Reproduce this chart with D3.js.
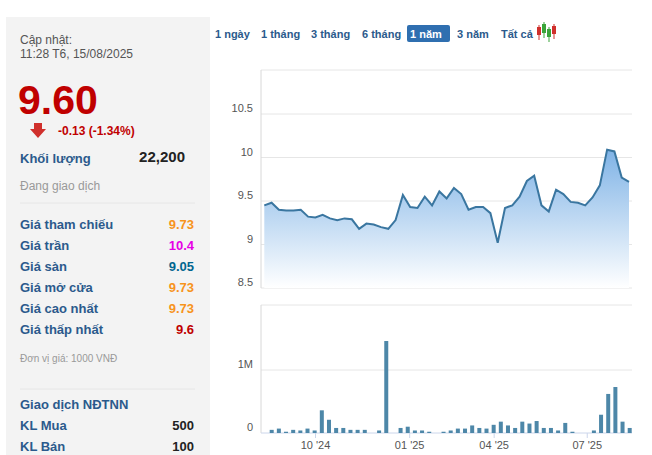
<!DOCTYPE html>
<html><head><meta charset="utf-8">
<script src="https://cdn.jsdelivr.net/npm/d3@7"></script>
<style>body{margin:0;background:#fff;font-family:Arial,"Liberation Sans",sans-serif}</style>
</head><body><svg id="c" width="652" height="455"></svg>
<script>
const prices=[9.45,9.48,9.40,9.39,9.39,9.40,9.32,9.31,9.34,9.30,9.28,9.30,9.29,9.18,9.24,9.23,9.20,9.18,9.28,9.57,9.43,9.42,9.55,9.45,9.61,9.53,9.65,9.58,9.40,9.43,9.43,9.36,9.02,9.42,9.45,9.55,9.73,9.79,9.45,9.38,9.63,9.58,9.49,9.48,9.45,9.54,9.68,10.09,10.07,9.77,9.72];
const volumesM=[0.05,0.07,0.02,0.05,0.04,0.07,0.04,0.36,0.21,0.08,0.08,0.05,0.05,0.05,0,0.04,1.46,0,0.08,0.10,0.04,0.04,0.02,0,0.02,0.04,0.07,0.07,0.12,0.08,0.07,0.13,0.18,0.12,0.08,0.18,0.15,0.19,0.08,0.08,0.04,0.16,0.02,0,0,0.04,0.29,0.62,0.73,0.18,0.08];
const priceTicks=[8.5,9,9.5,10,10.5];
const volTicks=[0,1];
const monthLabels=["10 '24","01 '25","04 '25","07 '25"];
const monthIdx=[6.05,19.2,31.0,44.0];
const ranges=["1 ngày","1 tháng","3 tháng","6 tháng","1 năm","3 năm","Tất cả"];
const infoLabels=["Giá tham chiếu","Giá trần","Giá sàn","Giá mở cửa","Giá cao nhất","Giá thấp nhất"];
const infoValues=["9.73","10.4","9.05","9.73","9.73","9.6"];
const infoColors=["#f7941d","#e600e6","#00658f","#f7941d","#f7941d","#c00000"];

const svg=d3.select("#c");
svg.append("rect").attr("x",6).attr("y",17).attr("width",204).attr("height",440).attr("fill","#f3f3f3");
const T=(x,y,t,o={})=>svg.append("text").attr("x",x).attr("y",y).text(t)
 .attr("font-size",o.s||12).attr("fill",o.c||"#333").attr("font-weight",o.w||"normal").attr("text-anchor",o.a||"start");
T(20,44,"Cập nhật:",{c:"#555"});T(20,58,"11:28 T6, 15/08/2025",{c:"#555"});
T(18,114,"9.60",{s:41,w:"bold",c:"#c00000"});
svg.append("path").attr("d","M34,123h8v6h4l-8,9l-8,-9h4z").attr("fill","#d0302c");
T(58,135,"-0.13 (-1.34%)",{w:"bold",c:"#c00000"});
T(20,163,"Khối lượng",{s:13,w:"bold",c:"#2b5a8c"});
T(185,162,"22,200",{s:15,w:"bold",c:"#222",a:"end"});
T(20,190,"Đang giao dịch",{s:12,c:"#999"});
svg.append("line").attr("x1",20).attr("x2",195).attr("y1",203).attr("y2",203).attr("stroke","#e6e6e6");
infoLabels.forEach((l,i)=>{T(20,229+i*21,l,{s:13,w:"bold",c:"#2b5a8c"});T(194,229+i*21,infoValues[i],{s:13,w:"bold",c:infoColors[i],a:"end"});});
T(20,362,"Đơn vị giá: 1000 VNĐ",{s:10,c:"#999"});
svg.append("line").attr("x1",20).attr("x2",195).attr("y1",389).attr("y2",389).attr("stroke","#e6e6e6");
T(20,409,"Giao dịch NĐTNN",{s:13,w:"bold",c:"#2b5a8c"});
T(20,430,"KL Mua",{s:13,w:"bold",c:"#2b5a8c"});T(194,430,"500",{s:13,w:"bold",c:"#222",a:"end"});
T(20,451,"KL Bán",{s:13,w:"bold",c:"#2b5a8c"});T(194,451,"100",{s:13,w:"bold",c:"#222",a:"end"});
const bx=[215,261,311,362,410,457,501];
svg.append("rect").attr("x",407).attr("y",25).attr("width",43).attr("height",17).attr("rx",2).attr("fill","#2f6fb0");
ranges.forEach((r,i)=>T(bx[i],38,r,{s:11,w:"bold",c:i==4?"#fff":"#2b5a8c"}));
[[539,"#d0302c",27,38],[544,"#3aa53a",24,36],[549,"#3aa53a",29,40],[554,"#d0302c",26,37]].forEach(([x,c,a,b])=>{
 svg.append("line").attr("x1",x).attr("x2",x).attr("y1",a-2).attr("y2",b+2).attr("stroke",c);
 svg.append("rect").attr("x",x-2).attr("y",a).attr("width",4).attr("height",b-a-3).attr("fill",c);});

const L=261,R=632;
const x=d3.scaleLinear().domain([0,prices.length-1]).range([264.3,629]);
const y=d3.scaleLinear().domain([8.5,10.5]).range([288,114]);
const g=svg.append("g");
priceTicks.forEach(t=>g.append("line").attr("x1",L).attr("x2",R).attr("y1",y(t)).attr("y2",y(t)).attr("stroke","#e6e6e6"));
g.append("line").attr("x1",L).attr("x2",R).attr("y1",70).attr("y2",70).attr("stroke","#e6e6e6");
g.append("line").attr("x1",L).attr("x2",L).attr("y1",70).attr("y2",288).attr("stroke","#d8d8d8");
const ax=g.append("g").attr("transform",`translate(${L-5},-6)`).call(d3.axisLeft(y).tickValues(priceTicks).tickSize(0).tickFormat(d=>d));
ax.select(".domain").remove();ax.selectAll("text").attr("font-size",11).attr("fill","#555").attr("font-family","Arial,sans-serif");
const grad=svg.append("defs").append("linearGradient").attr("id","gr").attr("x1",0).attr("x2",0).attr("y1",0).attr("y2",1);
grad.append("stop").attr("offset","0").attr("stop-color","#7fb3e6");
grad.append("stop").attr("offset","1").attr("stop-color","#ffffff");
g.append("path").datum(prices).attr("fill","url(#gr)").attr("d",d3.area().x((d,i)=>x(i)).y0(288).y1(d=>y(d)));
g.append("path").datum(prices).attr("fill","none").attr("stroke","#3a76a0").attr("stroke-width",2).attr("d",d3.line().x((d,i)=>x(i)).y(d=>y(d)));

const xv=d3.scaleLinear().domain([0,volumesM.length-1]).range([271.7,629.7]);
const yv=d3.scaleLinear().domain([0,1]).range([433,370]);
g.append("line").attr("x1",L).attr("x2",R).attr("y1",305).attr("y2",305).attr("stroke","#e6e6e6");
g.append("line").attr("x1",L).attr("x2",R).attr("y1",yv(1)).attr("y2",yv(1)).attr("stroke","#e6e6e6");
g.append("line").attr("x1",L).attr("x2",L).attr("y1",305).attr("y2",433).attr("stroke","#d8d8d8");
g.append("line").attr("x1",L).attr("x2",R).attr("y1",433).attr("y2",433).attr("stroke","#ccd6eb");
const av=g.append("g").attr("transform",`translate(${L-5},-6)`).call(d3.axisLeft(yv).tickValues(volTicks).tickSize(0).tickFormat(d=>d?d+"M":"0"));
av.select(".domain").remove();av.selectAll("text").attr("font-size",11).attr("fill","#555").attr("font-family","Arial,sans-serif");
g.selectAll(".vb").data(volumesM).join("rect").attr("x",(d,i)=>xv(i)-2).attr("width",4)
 .attr("y",d=>yv(d)).attr("height",d=>433-yv(d)).attr("fill","#4d87a8");
const am=g.append("g").attr("transform","translate(0,433)").call(d3.axisBottom(xv).tickValues(monthIdx).tickSize(5).tickFormat((d,i)=>monthLabels[i]));
am.select(".domain").remove();am.selectAll("line").attr("stroke","#ccd6eb");
am.selectAll("text").attr("font-size",11).attr("fill","#555").attr("font-family","Arial,sans-serif");
</script></body></html>
